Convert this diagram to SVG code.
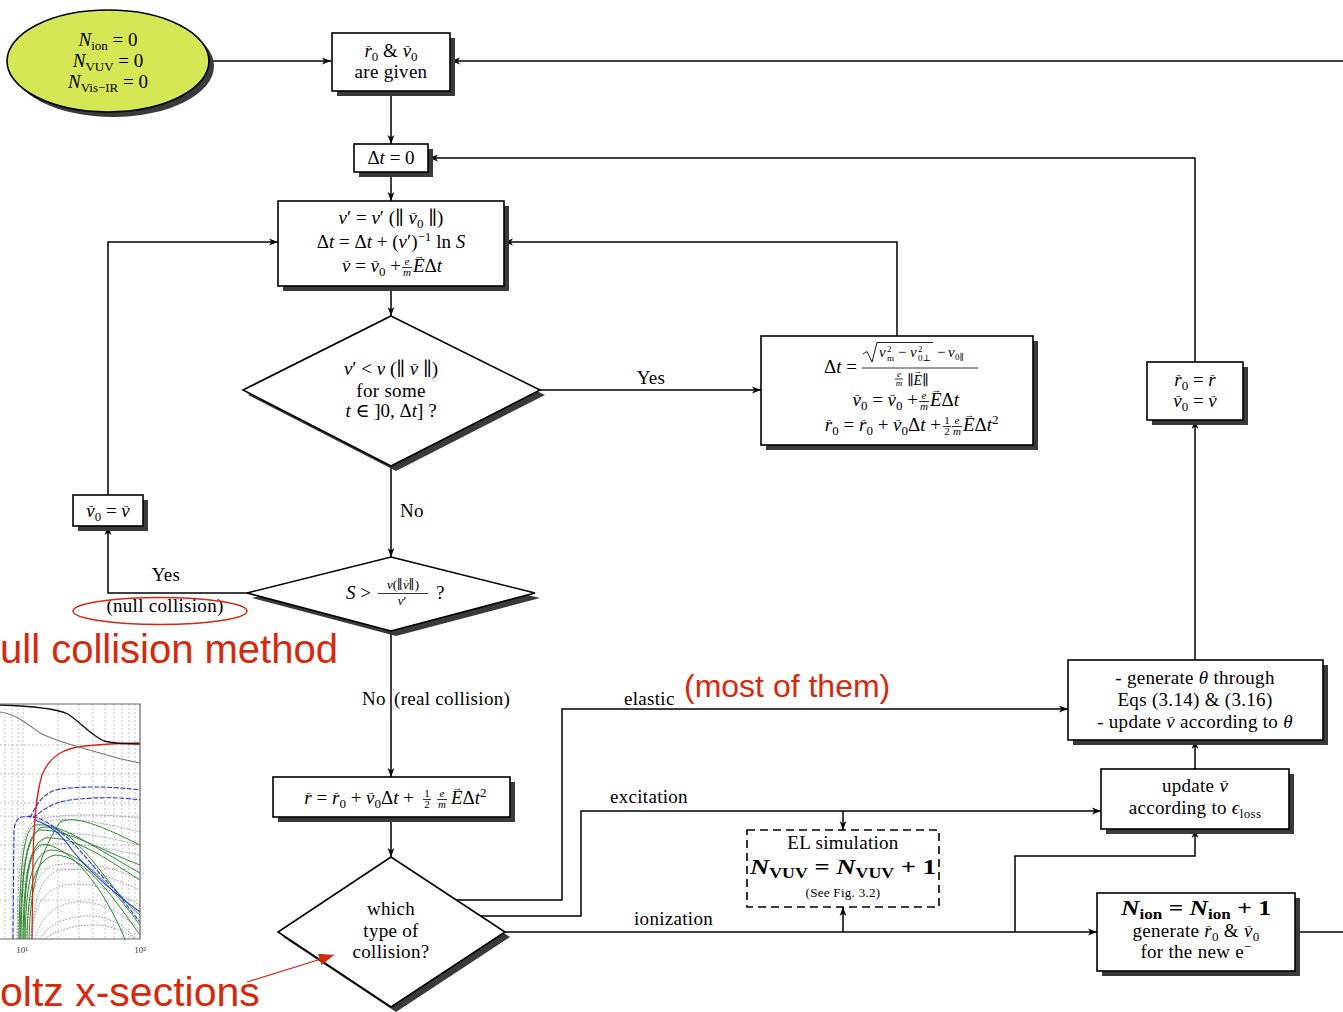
<svg xmlns="http://www.w3.org/2000/svg" width="1343" height="1012" viewBox="0 0 1343 1012">
<defs>
<style>
.t{font-family:"Liberation Serif","DejaVu Serif",serif;font-size:19px;fill:#000}
.w{letter-spacing:0.3px}
.c{text-anchor:middle}
.e{text-anchor:end}
.i{font-style:italic}
.s{font-size:13px}
.f{font-size:11px}
.b{font-weight:bold}
.va{font-size:9px;font-style:normal}
.box{fill:#fff;stroke:#000;stroke-width:1.6}
.sh{fill:#3a3a3a;stroke:none}
.ln{fill:none;stroke:#000;stroke-width:1.5}
.fl{stroke:#000;stroke-width:0.8}
.red{fill:#d8280c;font-family:"Liberation Sans",Arial,sans-serif}
.g{fill:none;stroke:#2b8a2b;stroke-width:1}
.d{fill:none;stroke:#8a8a8a;stroke-width:0.9;stroke-dasharray:1.5 1.5}
.grid{fill:none;stroke:#aaa;stroke-width:0.7;stroke-dasharray:2 2}
</style>
<marker id="a" markerWidth="10" markerHeight="8" refX="9" refY="4" orient="auto" markerUnits="userSpaceOnUse"><path d="M0,0.6 L9,4 L0,7.4 L2.4,4 z" fill="#000"/></marker>
<marker id="ra" markerWidth="16" markerHeight="12" refX="15" refY="6" orient="auto" markerUnits="userSpaceOnUse"><path d="M0,0 L15,6 L0,12 z" fill="#d8280c"/></marker>
</defs>
<rect width="1343" height="1012" fill="#fff"/>

<g id="plot">
<path class="grid" d="M0,745H140M0,774H140M0,803H140M0,816H140M0,845H140M0,869H140M0,900H140M5,704V939M12,704V939M18,704V939M23,704V939M58,704V939M79,704V939M93,704V939M105,704V939M114,704V939M122,704V939M129,704V939M135,704V939"/>
<path class="d" d="M17,939C18,860 22,830 35,820C70,812 110,815 140,818"/>
<path class="d" d="M20,939C22,880 28,850 45,845C80,840 110,850 140,855"/>
<path class="d" d="M26,939C28,900 35,870 55,865C90,860 120,870 140,880"/>
<path class="d" d="M30,939C33,910 42,890 65,885C95,880 120,895 140,905"/>
<path class="d" d="M35,939C40,920 52,905 75,902C100,900 125,915 140,930"/>
<path class="d" d="M40,939C48,925 62,918 85,916C110,915 128,928 135,939"/>
<path class="d" d="M22,939C24,880 30,845 50,835C85,830 115,840 140,845"/>
<path class="d" d="M45,939C55,930 75,925 95,925C115,925 130,935 135,939"/>
<path class="d" d="M32,939C34,900 40,875 60,870C90,866 115,880 140,890"/>
<path class="d" d="M18,939C20,870 26,835 42,823C65,815 100,822 140,832"/>
<path class="g" d="M19,939C20,860 24,830 35,825C60,822 90,845 140,873"/>
<path class="g" d="M21,939C22,870 26,835 40,830C70,830 100,850 140,865"/>
<path class="g" d="M23,939C24,880 28,845 45,838C75,836 105,858 140,880"/>
<path class="g" d="M25,939C26,890 30,855 50,850C80,850 110,885 140,925"/>
<path class="g" d="M27,939C28,895 32,860 55,855C85,855 115,900 140,935"/>
<path class="g" d="M20,939C21,880 25,840 40,828C60,822 80,845 100,870C115,890 128,905 140,915"/>
<path class="g" d="M29,939C30,900 35,860 60,822C75,815 100,825 140,845"/>
<path class="g" d="M24,939C25,870 30,840 48,845C70,850 100,880 125,939"/>
<path fill="none" stroke="#2035e0" stroke-width="1.1" stroke-dasharray="5 1.5" d="M30,818C36,805 42,795 55,790C75,786 110,786 140,790"/>
<path fill="none" stroke="#2035e0" stroke-width="1.1" stroke-dasharray="5 1.5" d="M33,818C45,808 55,802 70,800C95,797 120,797 140,800"/>
<path fill="none" stroke="#2035e0" stroke-width="1.1" stroke-dasharray="5 1.5" d="M13,939L14,830C15,822 17,818 22,817L33,816C50,822 60,832 70,840C85,855 100,875 115,890C125,903 132,912 140,922"/>
<path fill="none" stroke="#2035e0" stroke-width="1.1" d="M35,820C50,825 62,835 72,850C88,870 110,890 140,912"/>
<path fill="none" stroke="#e0201a" stroke-width="1.3" d="M32,939L33,860C34,820 36,795 42,775C50,755 65,748 85,746C105,744 125,743 140,743"/>
<path fill="none" stroke="#777" stroke-width="1.1" d="M0,712C15,714 25,722 40,733C55,741 75,746 100,753C115,758 128,761 140,763"/>
<path fill="none" stroke="#111" stroke-width="1.3" d="M0,705C30,706 55,708 68,714C80,722 92,736 104,741C115,744 128,744 140,744"/>
<path fill="none" stroke="#666" stroke-width="1.2" d="M0,704H140V939H0"/>
<text x="22" y="953" font-family="Liberation Serif,serif" font-size="9" fill="#333" text-anchor="middle">10¹</text>
<text x="140" y="953" font-family="Liberation Serif,serif" font-size="9" fill="#333" text-anchor="middle">10²</text>
</g>

<g id="connectors">
<path class="ln" marker-end="url(#a)" d="M210,61H331"/>
<path class="ln" marker-end="url(#a)" d="M1343,61H451"/>
<path class="ln" marker-end="url(#a)" d="M391,91V144"/>
<path class="ln" marker-end="url(#a)" d="M1195,362V158H429"/>
<path class="ln" marker-end="url(#a)" d="M391,172V201"/>
<path class="ln" marker-end="url(#a)" d="M108,495V242H278"/>
<path class="ln" marker-end="url(#a)" d="M897,336V242H504"/>
<path class="ln" marker-end="url(#a)" d="M391,286V316"/>
<path class="ln" marker-end="url(#a)" d="M540,390H761"/>
<path class="ln" marker-end="url(#a)" d="M391,466V557"/>
<path class="ln" marker-end="url(#a)" d="M248,593H108V526"/>
<path class="ln" marker-end="url(#a)" d="M391,631V777"/>
<path class="ln" marker-end="url(#a)" d="M391,817V857"/>
<path class="ln" marker-end="url(#a)" d="M456,900H562V709H1068"/>
<path class="ln" marker-end="url(#a)" d="M481,916H581V811H1101"/>
<path class="ln" marker-end="url(#a)" d="M843,811V830"/>
<path class="ln" marker-end="url(#a)" d="M505,932H1097"/>
<path class="ln" marker-end="url(#a)" d="M843,932V907"/>
<path class="ln" marker-end="url(#a)" d="M1015,932V856H1195V829"/>
<path class="ln" marker-end="url(#a)" d="M1195,769V740"/>
<path class="ln" marker-end="url(#a)" d="M1195,660V420"/>
<path class="ln" d="M1295,932H1343"/>
<text class="t w c" x="651" y="384">Yes</text>
<text class="t w" x="400" y="517">No</text>
<text class="t w c" x="166" y="581">Yes</text>
<text class="t w c" x="165" y="612">(null collision)</text>
<text class="t w c" x="374" y="705">No</text>
<text class="t w" x="394" y="705">(real collision)</text>
<text class="t w" x="624" y="705">elastic</text>
<text class="t w" x="610" y="803">excitation</text>
<text class="t w" x="634" y="925">ionization</text>
</g>

<g id="start">
<ellipse class="sh" cx="113" cy="66" rx="101" ry="51"/>
<ellipse cx="108" cy="61" rx="101" ry="51" fill="#d6e756" stroke="#000" stroke-width="1.6"/>
<text class="t c" x="108" y="46"><tspan class="i">N</tspan><tspan class="s" dy="4">ion</tspan><tspan dy="-4"> = 0</tspan></text>
<text class="t c" x="108" y="67"><tspan class="i">N</tspan><tspan class="s" dy="4">VUV</tspan><tspan dy="-4"> = 0</tspan></text>
<text class="t c" x="108" y="88"><tspan class="i">N</tspan><tspan class="s" dy="4">Vis−IR</tspan><tspan dy="-4"> = 0</tspan></text>
</g>

<g id="given">
<rect class="sh" x="337" y="38" width="118" height="58"/>
<rect class="box" x="332" y="33" width="118" height="58"/>
<text class="t c" x="391" y="57"><tspan class="i">r</tspan><tspan class="va" dx="-6.5" dy="-9" textLength="6.5" lengthAdjust="spacingAndGlyphs">→</tspan><tspan class="s" dy="13">0</tspan><tspan dy="-4"> &amp; </tspan><tspan class="i">v</tspan><tspan class="va" dx="-7.4" dy="-9" textLength="7.4" lengthAdjust="spacingAndGlyphs">→</tspan><tspan class="s" dy="13">0</tspan></text>
<text class="t w c" x="391" y="78">are given</text>
</g>

<g id="dt0">
<rect class="sh" x="359" y="149" width="74" height="28"/>
<rect class="box" x="354" y="144" width="74" height="28"/>
<text class="t c" x="391" y="164">Δ<tspan class="i">t</tspan> = 0</text>
</g>

<g id="nu">
<rect class="sh" x="283" y="206" width="226" height="85"/>
<rect class="box" x="278" y="201" width="226" height="85"/>
<text class="t c" x="391" y="224"><tspan class="i">ν</tspan>′ = <tspan class="i">ν</tspan>′ (∥ <tspan class="i">v</tspan><tspan class="va" dx="-7.4" dy="-9" textLength="7.4" lengthAdjust="spacingAndGlyphs">→</tspan><tspan class="s" dy="13">0</tspan><tspan dy="-4"> ∥)</tspan></text>
<text class="t c" x="391" y="248">Δ<tspan class="i">t</tspan> = Δ<tspan class="i">t</tspan> + (<tspan class="i">ν</tspan>′)<tspan class="s" dy="-7">−1</tspan><tspan dy="7"> ln </tspan><tspan class="i">S</tspan></text>
<text class="t e" x="401" y="272"><tspan class="i">v</tspan><tspan class="va" dx="-7.4" dy="-9" textLength="7.4" lengthAdjust="spacingAndGlyphs">→</tspan><tspan dy="9"> = </tspan><tspan class="i">v</tspan><tspan class="va" dx="-7.4" dy="-9" textLength="7.4" lengthAdjust="spacingAndGlyphs">→</tspan><tspan class="s" dy="13">0</tspan><tspan dy="-4"> +</tspan></text>
<text class="t f c i" x="407" y="265">e</text>
<line class="fl" x1="402" y1="267.5" x2="412" y2="267.5"/>
<text class="t f c i" x="407" y="276">m</text>
<text class="t" x="413" y="272"><tspan class="i">E</tspan><tspan class="va" dx="-10.5" dy="-13" textLength="10.5" lengthAdjust="spacingAndGlyphs">→</tspan><tspan dy="13">Δ</tspan><tspan class="i">t</tspan></text>
</g>

<g id="cond1">
<polygon class="sh" points="396,321 545,395 396,471 248,395"/>
<polygon class="box" points="391,316 540,390 391,466 243,390"/>
<text class="t c" x="391" y="375"><tspan class="i">ν</tspan>′ &lt; <tspan class="i">ν</tspan> (∥ <tspan class="i">v</tspan><tspan class="va" dx="-7.4" dy="-9" textLength="7.4" lengthAdjust="spacingAndGlyphs">→</tspan><tspan dy="9"> ∥)</tspan></text>
<text class="t w c" x="391" y="397">for some</text>
<text class="t c" x="391" y="417"><tspan class="i">t</tspan> ∈ ]0, Δ<tspan class="i">t</tspan>] ?</text>
</g>

<g id="boundary">
<rect class="sh" x="766" y="341" width="272" height="109"/>
<rect class="box" x="761" y="336" width="272" height="109"/>
<text class="t e" x="857" y="373">Δ<tspan class="i">t</tspan> =</text>
<path d="M863,354 L867,351.5 L872,362 L877,342.5 H933" fill="none" stroke="#000" stroke-width="0.9"/>
<text class="t i" x="879" y="357" style="font-size:15px">v</text>
<text class="t" x="887" y="352" style="font-size:9px">2</text>
<text class="t" x="887" y="361" style="font-size:9px">m</text>
<text class="t" x="898" y="357" style="font-size:15px">−</text>
<text class="t i" x="910" y="357" style="font-size:15px">v</text>
<text class="t" x="918" y="352" style="font-size:9px">2</text>
<text class="t" x="918" y="361" style="font-size:9px">0⊥</text>
<text class="t" x="937" y="357" style="font-size:15px">−</text>
<text class="t i" x="948" y="357" style="font-size:15px">v</text>
<text class="t" x="955" y="360" style="font-size:9px">0∥</text>
<line class="fl" x1="862" y1="368" x2="978" y2="368"/>
<text class="t c i" x="899" y="377" style="font-size:9px">e</text>
<line class="fl" x1="895" y1="379" x2="903" y2="379"/>
<text class="t c i" x="899" y="386" style="font-size:9px">m</text>
<text class="t" x="907" y="385" style="font-size:14px">∥<tspan class="i">E</tspan><tspan class="va" dx="-8.5" dy="-11" textLength="8.5" lengthAdjust="spacingAndGlyphs">→</tspan><tspan dy="11">∥</tspan></text>
<text class="t e" x="918" y="406"><tspan class="i">v</tspan><tspan class="va" dx="-7.4" dy="-9" textLength="7.4" lengthAdjust="spacingAndGlyphs">→</tspan><tspan class="s" dy="13">0</tspan><tspan dy="-4"> = </tspan><tspan class="i">v</tspan><tspan class="va" dx="-7.4" dy="-9" textLength="7.4" lengthAdjust="spacingAndGlyphs">→</tspan><tspan class="s" dy="13">0</tspan><tspan dy="-4"> +</tspan></text>
<text class="t f c i" x="924" y="399">e</text>
<line class="fl" x1="919" y1="401.5" x2="929" y2="401.5"/>
<text class="t f c i" x="924" y="410">m</text>
<text class="t" x="930" y="406"><tspan class="i">E</tspan><tspan class="va" dx="-10.5" dy="-13" textLength="10.5" lengthAdjust="spacingAndGlyphs">→</tspan><tspan dy="13">Δ</tspan><tspan class="i">t</tspan></text>
<text class="t e" x="941" y="431"><tspan class="i">r</tspan><tspan class="va" dx="-6.5" dy="-9" textLength="6.5" lengthAdjust="spacingAndGlyphs">→</tspan><tspan class="s" dy="13">0</tspan><tspan dy="-4"> = </tspan><tspan class="i">r</tspan><tspan class="va" dx="-6.5" dy="-9" textLength="6.5" lengthAdjust="spacingAndGlyphs">→</tspan><tspan class="s" dy="13">0</tspan><tspan dy="-4"> + </tspan><tspan class="i">v</tspan><tspan class="va" dx="-7.4" dy="-9" textLength="7.4" lengthAdjust="spacingAndGlyphs">→</tspan><tspan class="s" dy="13">0</tspan><tspan dy="-4">Δ</tspan><tspan class="i">t</tspan><tspan> +</tspan></text>
<text class="t f c" x="947" y="424">1</text>
<line class="fl" x1="943" y1="426.5" x2="951" y2="426.5"/>
<text class="t f c" x="947" y="435">2</text>
<text class="t f c i" x="957" y="424">e</text>
<line class="fl" x1="952" y1="426.5" x2="962" y2="426.5"/>
<text class="t f c i" x="957" y="435">m</text>
<text class="t" x="963" y="431"><tspan class="i">E</tspan><tspan class="va" dx="-10.5" dy="-13" textLength="10.5" lengthAdjust="spacingAndGlyphs">→</tspan><tspan dy="13">Δ</tspan><tspan class="i">t</tspan><tspan class="s" dy="-7">2</tspan></text>
</g>

<g id="update-r0">
<rect class="sh" x="1152" y="367" width="96" height="58"/>
<rect class="box" x="1147" y="362" width="96" height="58"/>
<text class="t c" x="1195" y="386"><tspan class="i">r</tspan><tspan class="va" dx="-6.5" dy="-9" textLength="6.5" lengthAdjust="spacingAndGlyphs">→</tspan><tspan class="s" dy="13">0</tspan><tspan dy="-4"> = </tspan><tspan class="i">r</tspan><tspan class="va" dx="-6.5" dy="-9" textLength="6.5" lengthAdjust="spacingAndGlyphs">→</tspan></text>
<text class="t c" x="1195" y="407"><tspan class="i">v</tspan><tspan class="va" dx="-7.4" dy="-9" textLength="7.4" lengthAdjust="spacingAndGlyphs">→</tspan><tspan class="s" dy="13">0</tspan><tspan dy="-4"> = </tspan><tspan class="i">v</tspan><tspan class="va" dx="-7.4" dy="-9" textLength="7.4" lengthAdjust="spacingAndGlyphs">→</tspan></text>
</g>

<g id="v0v">
<rect class="sh" x="78" y="500" width="70" height="31"/>
<rect class="box" x="73" y="495" width="70" height="31"/>
<text class="t c" x="108" y="517"><tspan class="i">v</tspan><tspan class="va" dx="-7.4" dy="-9" textLength="7.4" lengthAdjust="spacingAndGlyphs">→</tspan><tspan class="s" dy="13">0</tspan><tspan dy="-4"> = </tspan><tspan class="i">v</tspan><tspan class="va" dx="-7.4" dy="-9" textLength="7.4" lengthAdjust="spacingAndGlyphs">→</tspan></text>
</g>

<g id="cond2">
<polygon class="sh" points="396,562 540,598 396,636 252,598"/>
<polygon class="box" points="391,557 535,593 391,631 247,593"/>
<text class="t e" x="371" y="599"><tspan class="i">S</tspan> &gt;</text>
<text class="t c" x="403" y="589" style="font-size:13px"><tspan class="i">ν</tspan>(∥<tspan class="i">v</tspan><tspan class="va" style="font-size:7px" dx="-5" dy="-7" textLength="5" lengthAdjust="spacingAndGlyphs">→</tspan><tspan dy="7">∥)</tspan></text>
<line class="fl" x1="378" y1="593.5" x2="428" y2="593.5"/>
<text class="t c" x="402" y="605" style="font-size:13px"><tspan class="i">ν</tspan>′</text>
<text class="t" x="436" y="599">?</text>
</g>

<g id="position">
<rect class="sh" x="278" y="782" width="237" height="40"/>
<rect class="box" x="273" y="777" width="237" height="40"/>
<text class="t e" x="414" y="804"><tspan class="i">r</tspan><tspan class="va" dx="-6.5" dy="-9" textLength="6.5" lengthAdjust="spacingAndGlyphs">→</tspan><tspan dy="9"> = </tspan><tspan class="i">r</tspan><tspan class="va" dx="-6.5" dy="-9" textLength="6.5" lengthAdjust="spacingAndGlyphs">→</tspan><tspan class="s" dy="13">0</tspan><tspan dy="-4"> + </tspan><tspan class="i">v</tspan><tspan class="va" dx="-7.4" dy="-9" textLength="7.4" lengthAdjust="spacingAndGlyphs">→</tspan><tspan class="s" dy="13">0</tspan><tspan dy="-4">Δ</tspan><tspan class="i">t</tspan><tspan> +</tspan></text>
<text class="t f c" x="427" y="797">1</text>
<line class="fl" x1="423" y1="799.5" x2="431" y2="799.5"/>
<text class="t f c" x="427" y="808">2</text>
<text class="t f c i" x="442" y="797">e</text>
<line class="fl" x1="437" y1="799.5" x2="447" y2="799.5"/>
<text class="t f c i" x="442" y="808">m</text>
<text class="t" x="451" y="804"><tspan class="i">E</tspan><tspan class="va" dx="-10.5" dy="-13" textLength="10.5" lengthAdjust="spacingAndGlyphs">→</tspan><tspan dy="13">Δ</tspan><tspan class="i">t</tspan><tspan class="s" dy="-7">2</tspan></text>
</g>

<g id="cond3">
<polygon class="sh" points="396,862 510,937 396,1012 283,937"/>
<polygon class="box" points="391,857 505,932 391,1007 278,932"/>
<text class="t w c" x="391" y="915">which</text>
<text class="t w c" x="391" y="937">type of</text>
<text class="t w c" x="391" y="958">collision?</text>
</g>

<g id="el">
<rect x="747" y="830" width="192" height="77" fill="#fff" stroke="#000" stroke-width="1.6" stroke-dasharray="8 5"/>
<text class="t w c" x="843" y="849">EL simulation</text>
<text class="t c b" x="843" y="874" style="font-size:21px" textLength="186" lengthAdjust="spacingAndGlyphs"><tspan class="i">N</tspan><tspan font-size="14" dy="4">VUV</tspan><tspan dy="-4"> = </tspan><tspan class="i">N</tspan><tspan font-size="14" dy="4">VUV</tspan><tspan dy="-4"> + 1</tspan></text>
<text class="t w c" x="843" y="897" style="font-size:13px">(See Fig. 3.2)</text>
</g>

<g id="update-v">
<rect class="sh" x="1106" y="774" width="188" height="60"/>
<rect class="box" x="1101" y="769" width="188" height="60"/>
<text class="t w c" x="1195" y="792">update <tspan class="i">v</tspan><tspan class="va" dx="-7.4" dy="-9" textLength="7.4" lengthAdjust="spacingAndGlyphs">→</tspan></text>
<text class="t w c" x="1195" y="814">according to <tspan class="i">ϵ</tspan><tspan class="s" dy="4">loss</tspan></text>
</g>

<g id="scatter">
<rect class="sh" x="1073" y="665" width="255" height="80"/>
<rect class="box" x="1068" y="660" width="255" height="80"/>
<text class="t w c" x="1195" y="684">- generate <tspan class="i">θ</tspan> through</text>
<text class="t w c" x="1195" y="706">Eqs (3.14) &amp; (3.16)</text>
<text class="t w c" x="1195" y="728">- update <tspan class="i">v</tspan><tspan class="va" dx="-7.4" dy="-9" textLength="7.4" lengthAdjust="spacingAndGlyphs">→</tspan><tspan dy="9"> according to </tspan><tspan class="i">θ</tspan></text>
</g>

<g id="ionize">
<rect class="sh" x="1102" y="898" width="198" height="78"/>
<rect class="box" x="1097" y="893" width="198" height="78"/>
<text class="t c b" x="1196" y="915" style="font-size:21px" textLength="150" lengthAdjust="spacingAndGlyphs"><tspan class="i">N</tspan><tspan font-size="14" dy="4">ion</tspan><tspan dy="-4"> = </tspan><tspan class="i">N</tspan><tspan font-size="14" dy="4">ion</tspan><tspan dy="-4"> + 1</tspan></text>
<text class="t w c" x="1196" y="937">generate <tspan class="i">r</tspan><tspan class="va" dx="-6.5" dy="-9" textLength="6.5" lengthAdjust="spacingAndGlyphs">→</tspan><tspan class="s" dy="13">0</tspan><tspan dy="-4"> &amp; </tspan><tspan class="i">v</tspan><tspan class="va" dx="-7.4" dy="-9" textLength="7.4" lengthAdjust="spacingAndGlyphs">→</tspan><tspan class="s" dy="13">0</tspan></text>
<text class="t w c" x="1196" y="958">for the new e<tspan class="s" dy="-7">−</tspan></text>
</g>

<g id="annotations">
<ellipse cx="160" cy="611" rx="87" ry="13.5" fill="none" stroke="#d8280c" stroke-width="1.5"/>
<text class="red" x="0" y="663" font-size="40">ull collision method</text>
<text class="red" x="684" y="697" font-size="32">(most of them)</text>
<text class="red" x="0" y="1006" font-size="41">oltz x-sections</text>
<line x1="247" y1="982" x2="334" y2="955" stroke="#d8280c" stroke-width="1.2" marker-end="url(#ra)"/>
</g>
</svg>
